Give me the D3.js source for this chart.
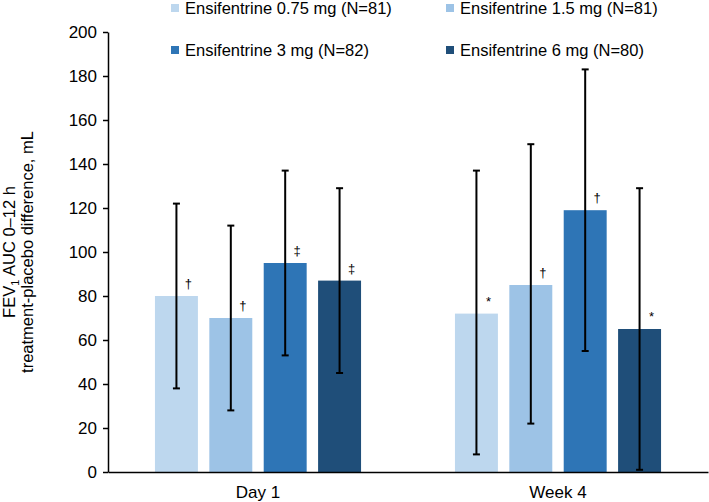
<!DOCTYPE html>
<html>
<head>
<meta charset="utf-8">
<script src="https://cdn.jsdelivr.net/npm/d3@7"></script>
<style>
  body { margin: 0; background: #fff; }
  svg text { font-family: Arial, "Liberation Sans", sans-serif; font-stretch: normal; fill: #000; }
</style>
</head>
<body>
<svg id="chart" width="709" height="502"></svg>
<script>

// data
const timepoints = ['Day 1', 'Week 4'];
const doses      = ['Ensifentrine 0.75 mg (N=81)', 'Ensifentrine 1.5 mg (N=81)',
                    'Ensifentrine 3 mg (N=82)', 'Ensifentrine 6 mg (N=80)'];
const colors     = ['#bdd7ee', '#9dc3e6', '#2e75b6', '#1f4e79'];

const day1Mean   = [80, 70, 95, 87];
const day1Lower  = [38, 28, 53, 45];
const day1Upper  = [122, 112, 137, 129];
const day1Sig    = ['\u2020', '\u2020', '\u2021', '\u2021'];

const week4Mean  = [72, 85, 119, 65];
const week4Lower = [8, 22, 55, 1];
const week4Upper = [137, 149, 183, 129];
const week4Sig   = ['*', '\u2020', '\u2020', '*'];

const yTicks     = [0, 20, 40, 60, 80, 100, 120, 140, 160, 180, 200];


const rows = [];
doses.forEach((d, i) => {
  rows.push({tp: 'Day 1', dose: d, i, mean: day1Mean[i], lo: day1Lower[i], hi: day1Upper[i], sig: day1Sig[i]});
  rows.push({tp: 'Week 4', dose: d, i, mean: week4Mean[i], lo: week4Lower[i], hi: week4Upper[i], sig: week4Sig[i]});
});

const font = 'Arial, "Liberation Sans", sans-serif';
const svg = d3.select('#chart');
const margin = {left: 108, right: 1, top: 32, bottom: 30};
const width  = +svg.attr('width');
const height = +svg.attr('height');
const plotBottom = height - margin.bottom;

const x0 = d3.scaleBand()
  .domain(timepoints)
  .range([margin.left, width - margin.right])
  .paddingInner(0.313)
  .paddingOuter(0.1565);

const x1 = d3.scaleBand()
  .domain(doses)
  .range([0, x0.bandwidth()])
  .paddingInner(0.21);

const y = d3.scaleLinear()
  .domain([0, 200])
  .range([plotBottom, margin.top]);

// bars
svg.append('g').selectAll('rect')
  .data(rows)
  .enter().append('rect')
    .attr('x', d => x0(d.tp) + x1(d.dose))
    .attr('y', d => y(d.mean))
    .attr('width', x1.bandwidth())
    .attr('height', d => y(0) - y(d.mean))
    .attr('fill', d => colors[d.i]);

// error bars
const cap = 3.5;
const err = svg.append('g')
  .attr('stroke', '#000')
  .attr('stroke-width', 2);

rows.forEach(d => {
  const cx = x0(d.tp) + x1(d.dose) + x1.bandwidth() / 2;
  err.append('line')
    .attr('x1', cx).attr('x2', cx)
    .attr('y1', y(d.lo)).attr('y2', y(d.hi));
  err.append('line')
    .attr('x1', cx - cap).attr('x2', cx + cap)
    .attr('y1', y(d.hi)).attr('y2', y(d.hi));
  err.append('line')
    .attr('x1', cx - cap).attr('x2', cx + cap)
    .attr('y1', y(d.lo)).attr('y2', y(d.lo));
});

// significance markers
svg.append('g').selectAll('text')
  .data(rows)
  .enter().append('text')
    .attr('x', d => x0(d.tp) + x1(d.dose) + x1.bandwidth() / 2 + 12)
    .attr('y', d => y(d.mean) - 8)
    .attr('text-anchor', 'middle')
    .attr('fill', '#000')
    .style('font-size', '13px')
    .text(d => d.sig);

// y axis
const yAxisG = svg.append('g')
  .attr('transform', `translate(${margin.left},0)`)
  .call(d3.axisLeft(y).tickValues(yTicks).tickSize(5).tickPadding(6).tickSizeOuter(0));

yAxisG.select('.domain').attr('stroke', '#000').attr('stroke-width', 1.5);
yAxisG.selectAll('.tick line').attr('stroke', '#000').attr('stroke-width', 1.5);
yAxisG.selectAll('.tick text')
  .style('font-size', '17px')
  .style('font-family', font)
  .attr('fill', '#000');

// x axis
const xAxisG = svg.append('g')
  .attr('transform', `translate(0,${plotBottom})`)
  .call(d3.axisBottom(x0).tickSize(0).tickPadding(14).tickSizeOuter(0));

xAxisG.select('.domain').attr('stroke', '#000').attr('stroke-width', 1.5);
xAxisG.selectAll('.tick text')
  .style('font-size', '17px')
  .style('font-family', font)
  .attr('fill', '#000');

// y label
const yMid = (margin.top + plotBottom) / 2;
const yLab = svg.append('text')
  .attr('transform', `translate(15,${yMid}) rotate(-90)`)
  .attr('text-anchor', 'middle')
  .style('font-size', '16.5px');
yLab.append('tspan').text('FEV');
yLab.append('tspan').attr('dy', 4).style('font-size', '11px').text('1');
yLab.append('tspan').attr('dy', -4).text(' AUC 0\u201312 h');

svg.append('text')
  .attr('transform', `translate(33,${yMid}) rotate(-90)`)
  .attr('text-anchor', 'middle')
  .style('font-size', '16.5px')
  .text('treatment-placebo difference, mL');

// legend
const legendPos = [[171, 8], [446, 8], [171, 50], [446, 50]];
const legend = svg.append('g').selectAll('g')
  .data(doses)
  .enter().append('g')
    .attr('transform', (d, i) => `translate(${legendPos[i][0]},${legendPos[i][1]})`);

legend.append('rect')
  .attr('x', 0).attr('y', -4)
  .attr('width', 8).attr('height', 8)
  .attr('fill', (d, i) => colors[i]);

legend.append('text')
  .attr('x', 14)
  .attr('y', 6)
  .style('font-size', '16.5px')
  .text(d => d);

</script>
</body>
</html>
